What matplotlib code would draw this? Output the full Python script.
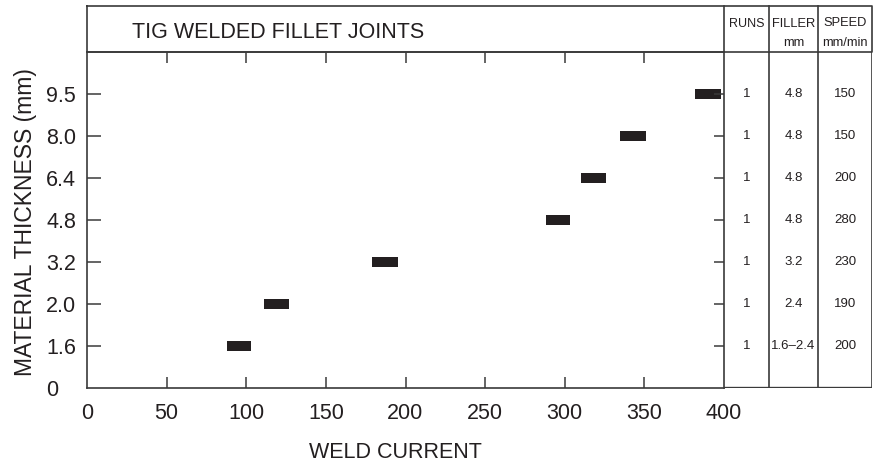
import numpy as np
import matplotlib
matplotlib.use("Agg")
import matplotlib.pyplot as plt

plt.rcParams['font.family'] = ['Liberation Sans', 'DejaVu Sans']

# ==================================================
# DATA
# ==================================================

thickness = ['1.6', '2.0', '3.2', '4.8', '6.4', '8.0', '9.5']
current_low = [88, 111, 179, 288, 310, 335, 382]
current_high = [103, 127, 195, 303, 326, 351, 398]
runs = ['1', '1', '1', '1', '1', '1', '1']
filler = ['1.6–2.4', '2.4', '3.2', '4.8', '4.8', '4.8', '4.8']
speed = ['200', '190', '230', '280', '200', '150', '150']

x_ticks = [0, 50, 100, 150, 200, 250, 300, 350, 400]

ink = '#231f20'
line_col = '#3a3a3a'

# ==================================================
# FIGURE LAYOUT (pixel based)
# ==================================================

W, H = 874, 466
fig = plt.figure(figsize=(W / 100, H / 100), dpi=100)

x0, x1 = 87, 724      # plot area
y_top, y_bot = 52, 388
head_top = 6
c1, c2, c3 = 769, 818, 872


def box(l, t, r, b):
    return [l / W, (H - b) / H, (r - l) / W, (b - t) / H]


ax = fig.add_axes(box(x0, y_top, x1, y_bot))

# bars
ypos = np.arange(1, len(thickness) + 1)
widths = np.array(current_high) - np.array(current_low)
ax.barh(ypos, widths, left=current_low, height=0.25, color=ink)

ax.set_xlim(0, 400)
ax.set_ylim(0, 8)
ax.set_xticks(x_ticks)
ax.set_xticklabels([str(v) for v in x_ticks], fontsize=15.5, color=ink)
ax.set_yticks([0] + list(ypos))
ax.set_yticklabels(['0'] + thickness, fontsize=15.5, color=ink, ha='left')

ax.tick_params(axis='x', direction='in', length=8, width=1.1, color=line_col,
               pad=11, top=True, labeltop=False)
ax.tick_params(axis='y', direction='in', length=10, width=1.1, color=line_col,
               pad=29.5, right=True)
# hide the tick marks at 0 and 400 / 0
for t in ax.xaxis.get_major_ticks():
    if t.get_loc() in (0, 400):
        t.tick1line.set_visible(False)
        t.tick2line.set_visible(False)
for t in ax.yaxis.get_major_ticks():
    if t.get_loc() == 0:
        t.tick1line.set_visible(False)
        t.tick2line.set_visible(False)
    else:
        t.tick2line.set_markersize(7)

for s in ax.spines.values():
    s.set_color(line_col)
    s.set_linewidth(1.2)

ax.set_xlabel('WELD CURRENT', fontsize=15.5, color=ink, va='center')
ax.xaxis.set_label_coords((395 - x0) / (x1 - x0), -(452 - y_bot) / (y_bot - y_top),
                          transform=ax.transAxes)
ax.set_ylabel('MATERIAL THICKNESS (mm)', fontsize=16.5, color=ink, va='center')
ax.yaxis.set_label_coords(-(x0 - 26) / (x1 - x0), (y_bot - 222) / (y_bot - y_top),
                          transform=ax.transAxes)

# ==================================================
# TABLE BODY (shares y with plot)
# ==================================================

tb = fig.add_axes(box(x1, y_top, c3, y_bot), sharey=ax)
tb.set_xlim(x1, c3)
tb.axis('off')
tb.axvline(c1, color=line_col, lw=1.2)
tb.axvline(c2, color=line_col, lw=1.2)
tb.axvline(c3, color=line_col, lw=1.2)
tb.axhline(0, color=line_col, lw=2.4)

for y, r, f, s in zip(ypos, runs, filler, speed):
    tb.text((x1 + c1) / 2, y, r, ha='center', va='center', fontsize=9.5, color=ink)
    tb.text((c1 + c2) / 2, y, f, ha='center', va='center', fontsize=9.5, color=ink)
    tb.text((c2 + c3) / 2, y, s, ha='center', va='center', fontsize=9.5, color=ink)

# ==================================================
# HEADER ROW
# ==================================================

hd = fig.add_axes(box(x0, head_top, c3, y_top))
hd.set_xlim(x0, c3)
hd.set_ylim(y_top, head_top)
hd.axis('off')
hd.plot([x0, c3, c3, x0, x0], [head_top, head_top, y_top, y_top, head_top],
        color=line_col, lw=1.2, clip_on=False)
for cx in (x1, c1, c2):
    hd.plot([cx, cx], [head_top, y_top], color=line_col, lw=1.2, clip_on=False)

hd.text(278, 33, 'TIG WELDED FILLET JOINTS', ha='center', va='center',
        fontsize=15.5, color=ink)
hd.text((x1 + c1) / 2, 24, 'RUNS', ha='center', va='center', fontsize=9, color=ink)
hd.text((c1 + c2) / 2, 24, 'FILLER', ha='center', va='center', fontsize=9.3, color=ink)
hd.text((c1 + c2) / 2, 43, 'mm', ha='center', va='center', fontsize=9.3, color=ink)
hd.text((c2 + c3) / 2, 23, 'SPEED', ha='center', va='center', fontsize=9.3, color=ink)
hd.text((c2 + c3) / 2, 43, 'mm/min', ha='center', va='center', fontsize=9.3, color=ink)

fig.savefig('out.png', dpi=100)
